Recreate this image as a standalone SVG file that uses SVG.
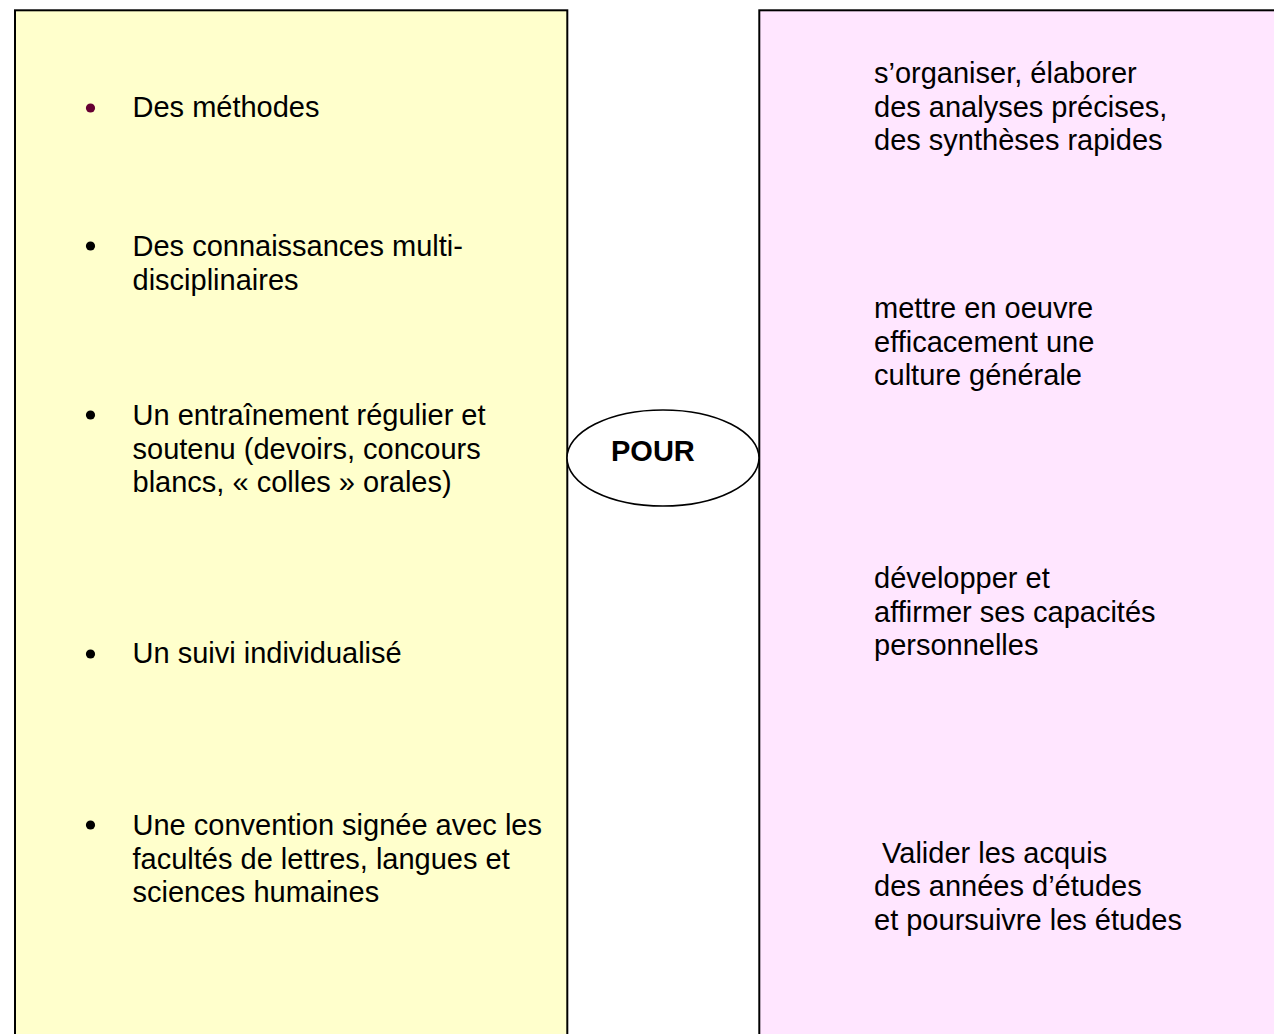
<svg xmlns="http://www.w3.org/2000/svg" width="1274" height="1034" viewBox="0 0 1274 1034">
<style>
.box{stroke:#000;stroke-width:2}
.t{font-family:"Liberation Sans",Arial,sans-serif;font-size:29px;fill:#000}
.b{font-family:"Liberation Sans",Arial,sans-serif;font-size:29px;font-weight:bold;fill:#000}
</style>
<rect width="1274" height="1034" fill="#fff"/>
<g id="left">
<rect class="box" x="15" y="10.3" width="552.3" height="1040" fill="#FFFFCC"/>
<circle cx="90.5" cy="108" r="4.6" fill="#660033"/>
<text class="t" x="132.5" y="117">Des méthodes</text>
<circle cx="90.5" cy="246" r="4.6" fill="#000"/>
<text class="t" x="132.5" y="256">Des connaissances multi-</text>
<text class="t" x="132.5" y="289.5">disciplinaires</text>
<circle cx="90.5" cy="415" r="4.6" fill="#000"/>
<text class="t" x="132.5" y="425">Un entraînement régulier et</text>
<text class="t" x="132.5" y="458.5">soutenu (devoirs, concours</text>
<text class="t" x="132.5" y="492">blancs, « colles » orales)</text>
<circle cx="90.5" cy="654" r="4.6" fill="#000"/>
<text class="t" x="132.5" y="663">Un suivi individualisé</text>
<circle cx="90.5" cy="825" r="4.6" fill="#000"/>
<text class="t" x="132.5" y="835">Une convention signée avec les</text>
<text class="t" x="132.5" y="868.5">facultés de lettres, langues et</text>
<text class="t" x="132.5" y="902">sciences humaines</text>
</g>
<g id="right">
<rect class="box" x="759.3" y="10.3" width="540" height="1040" fill="#FFE6FF"/>
<text class="t" x="874" y="83">s’organiser, élaborer</text>
<text class="t" x="874" y="116.5">des analyses précises,</text>
<text class="t" x="874" y="150">des synthèses rapides</text>
<text class="t" x="874" y="318">mettre en oeuvre</text>
<text class="t" x="874" y="351.5">efficacement une</text>
<text class="t" x="874" y="385">culture générale</text>
<text class="t" x="874" y="588">développer et</text>
<text class="t" x="874" y="621.5">affirmer ses capacités</text>
<text class="t" x="874" y="655">personnelles</text>
<text class="t" x="874" y="862.5" xml:space="preserve"> Valider les acquis</text>
<text class="t" x="874" y="896">des années d’études</text>
<text class="t" x="874" y="929.5">et poursuivre les études</text>
</g>
<g id="pour">
<ellipse cx="663" cy="458" rx="96" ry="48" fill="#fff" stroke="#000" stroke-width="1.6"/>
<text class="b" x="611" y="460.7">POUR</text>
</g>
<g id="connectors"></g>
</svg>
